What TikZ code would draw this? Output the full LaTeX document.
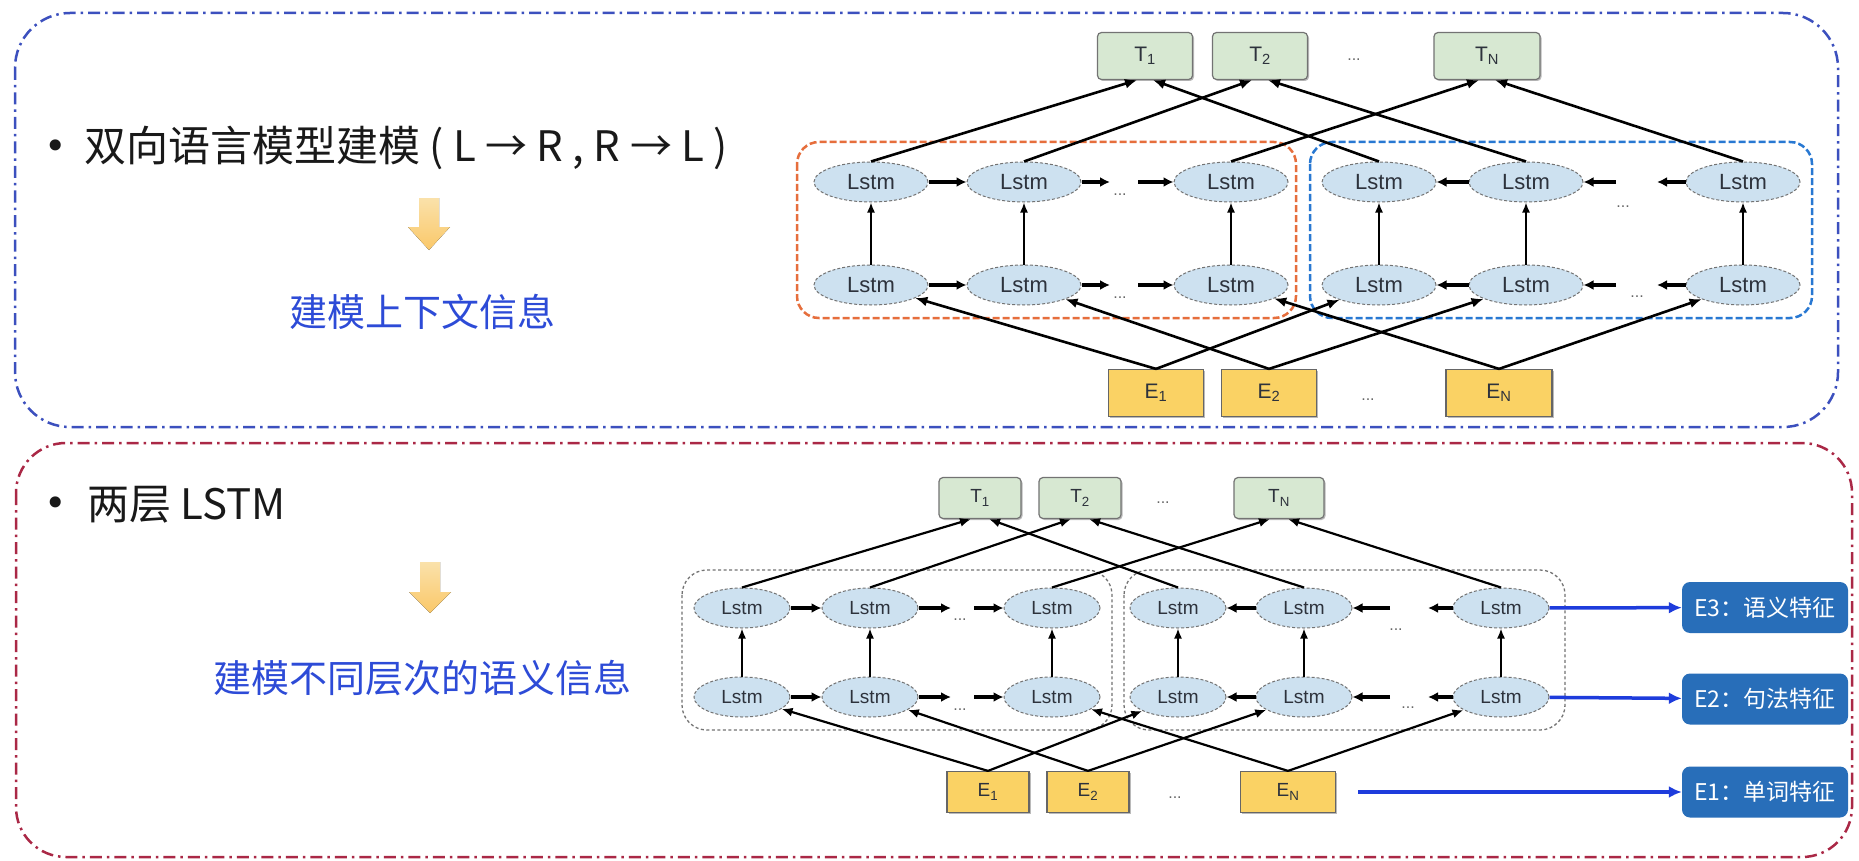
\documentclass[tikz,border=0pt]{standalone}
\usepackage{fontspec}
\setmainfont{Liberation Sans}
\newfontfamily\cjk{Noto Sans CJK SC}
\newfontfamily\dejavu{DejaVu Sans}
\usetikzlibrary{arrows.meta,shapes.geometric,calc,shadows}
\definecolor{outerblue}{RGB}{60,80,190}
\definecolor{outerred}{RGB}{170,40,70}
\definecolor{txtblue}{RGB}{45,75,215}
\definecolor{arrowyel}{RGB}{250,200,105}
\definecolor{arrowyeltop}{RGB}{250,225,170}
\definecolor{lstmfill}{RGB}{205,225,240}
\definecolor{lstmtext}{RGB}{45,50,60}
\definecolor{tfill}{RGB}{215,232,210}
\definecolor{efill}{RGB}{250,210,100}
\definecolor{orangebox}{RGB}{230,110,60}
\definecolor{bluebox}{RGB}{40,120,210}
\definecolor{labelfill}{RGB}{40,110,185}
\definecolor{featline}{RGB}{30,60,220}
\tikzset{
  outerbox/.style={line width=2.5pt, rounded corners=55pt, dash pattern=on 12pt off 5pt on 2.5pt off 5pt},
  lstmA/.style={ellipse, draw=black!55, dash pattern=on 3pt off 2pt, line width=1pt, fill=lstmfill,
    minimum width=114pt, minimum height=40pt, inner sep=0pt, text=lstmtext, font=\fontsize{22}{22}\selectfont},
  lstmB/.style={lstmA, minimum width=96pt, minimum height=40pt, font=\fontsize{19}{19}\selectfont},
  boxshadow/.style={drop shadow={shadow xshift=1.5pt, shadow yshift=-1.5pt, fill=black!45, opacity=0.6}},
  tboxA/.style={draw=black!55, line width=1.2pt, fill=tfill, rounded corners=4pt, inner sep=0pt, boxshadow,
    minimum width=95pt, minimum height=47pt, text=lstmtext, font=\fontsize{21}{21}\selectfont},
  eboxA/.style={draw=black!60, line width=1.2pt, fill=efill, inner sep=0pt, boxshadow,
    minimum width=95pt, minimum height=47pt, text=lstmtext, font=\fontsize{21}{21}\selectfont},
  tboxB/.style={tboxA, minimum width=82pt, minimum height=41pt, font=\fontsize{19}{19}\selectfont},
  eboxB/.style={eboxA, minimum width=82pt, minimum height=41pt, font=\fontsize{19}{19}\selectfont},
  dotsA/.style={text=black!60, font=\fontsize{16}{16}\selectfont, inner sep=0pt},
  diagA/.style={line width=2.6pt, -{Latex[length=12pt,width=10pt]}},
  diagB/.style={line width=2.2pt, -{Latex[length=11pt,width=9pt]}},
  vertA/.style={line width=1.6pt, -{Latex[length=10pt,width=8pt]}},
  horA/.style={line width=3.2pt, -{Latex[length=10pt,width=10pt]}},
  groupbox/.style={line width=2.5pt, dash pattern=on 7pt off 3pt, rounded corners=22pt},
  dotbox/.style={draw=black!55, line width=1.3pt, dash pattern=on 3pt off 2.5pt, rounded corners=25pt},
  featbox/.style={fill=labelfill, rounded corners=8pt, minimum width=166pt, minimum height=51pt,
    text=white, inner sep=0pt, font=\cjk\fontsize{23}{23}\selectfont},
  featarrow/.style={draw=featline, line width=3.5pt, -{Latex[length=13pt,width=12pt]}},
  titletext/.style={anchor=west, inner sep=0pt, text=black!90, font=\cjk\fontsize{42}{42}\selectfont},
  bullettext/.style={inner sep=0pt, text=black!90, font=\dejavu\fontsize{38}{38}\selectfont},
  subtext/.style={inner sep=0pt, text=txtblue, font=\cjk\fontsize{38}{38}\selectfont},
}
\begin{document}
\begin{tikzpicture}[x=1pt,y=-1pt]
\useasboundingbox[fill=white] (0,0) rectangle (1859,861);

% outer frames
\draw[outerbox, draw=outerblue] (15,13) rectangle (1838,427);
\draw[outerbox, draw=outerred, rounded corners=50pt] (16,443) rectangle (1852,857);

% ---------- top left texts
\node[bullettext] (bul1) at (56,150) {•};
\node[titletext] (title1) at (84,148) {双向语言模型建模 ( L → R , R → L )};
\fill[top color=arrowyeltop, bottom color=arrowyel] (419,198) -- (439,198) -- (439,227) -- (450,227) -- (429,250) -- (408,227) -- (419,227) -- cycle;
\node[subtext] (sub1) at (422,312) {建模上下文信息};

% ---------- top diagram
\draw[groupbox, draw=orangebox] (797,142) rectangle (1296,318);
\draw[groupbox, draw=bluebox] (1310,142) rectangle (1812,318);

\node[tboxA] (T1) at (1145,56) {T\textsubscript{1}};
\node[tboxA] (T2) at (1260,56) {T\textsubscript{2}};
\node[dotsA] (Td) at (1354,60) {...};
\node[tboxA, minimum width=106pt] (TN) at (1487,56) {T\textsubscript{N}};

\node[eboxA] (E1) at (1156,393) {E\textsubscript{1}};
\node[eboxA] (E2) at (1269,393) {E\textsubscript{2}};
\node[dotsA] (Ed) at (1368,400) {...};
\node[eboxA, minimum width=106pt] (EN) at (1499,393) {E\textsubscript{N}};

\foreach \i/\x in {1/871,2/1024,3/1231,4/1379,5/1526,6/1743}{
  \node[lstmA] (tu\i) at (\x,182) {Lstm};
  \node[lstmA] (tl\i) at (\x,285) {Lstm};
}
\node[dotsA] (tdu1) at (1120,195) {...};
\node[dotsA] (tdl1) at (1120,298) {...};
\node[dotsA] (tdu2) at (1623,207) {...};
\node[dotsA] (tdl2) at (1637,297) {...};

\coordinate (tua) at (1110,182); \coordinate (tub) at (1138,182);
\coordinate (tla) at (1110,285); \coordinate (tlb) at (1138,285);
\coordinate (tuc) at (1616,182); \coordinate (tud) at (1657,182);
\coordinate (tlc) at (1616,285); \coordinate (tld) at (1657,285);

\foreach \i in {1,...,6}{ \draw[vertA] (tl\i) -- (tu\i); }
\foreach \r in {u,l}{
  \draw[horA] (t\r1) -- (t\r2);
  \draw[horA] (t\r2) -- (t\r a);
  \draw[horA] (t\r b) -- (t\r3);
  \draw[horA] (t\r5) -- (t\r4);
  \draw[horA] (t\r c) -- (t\r5);
  \draw[horA] (t\r6) -- (t\r d);
}
\draw[diagA] (tu1.north) -- ([xshift=-8pt]T1.south);
\draw[diagA] (tu4.north) -- ([xshift=8pt]T1.south);
\draw[diagA] (tu2.north) -- ([xshift=-8pt]T2.south);
\draw[diagA] (tu5.north) -- ([xshift=8pt]T2.south);
\draw[diagA] (tu3.north) -- ([xshift=-8pt]TN.south);
\draw[diagA] (tu6.north) -- ([xshift=8pt]TN.south);
\draw[diagA] (E1.north) -- (tl1);
\draw[diagA] (E1.north) -- (tl4);
\draw[diagA] (E2.north) -- (tl2);
\draw[diagA] (E2.north) -- (tl5);
\draw[diagA] (EN.north) -- (tl3);
\draw[diagA] (EN.north) -- (tl6);

% ---------- bottom left texts
\node[bullettext] (bul2) at (56,507) {•};
\node[titletext] (title2) at (87,505) {两层 LSTM};
\fill[top color=arrowyeltop, bottom color=arrowyel] (420,562) -- (440,562) -- (440,592) -- (451,592) -- (430,613) -- (409,592) -- (420,592) -- cycle;
\node[subtext] (sub2) at (422,678) {建模不同层次的语义信息};

% ---------- bottom diagram
\draw[dotbox] (682,570) rectangle (1112,730);
\draw[dotbox] (1124,570) rectangle (1565,730);

\node[tboxB] (bT1) at (980,498) {T\textsubscript{1}};
\node[tboxB] (bT2) at (1080,498) {T\textsubscript{2}};
\node[dotsA] (bTd) at (1163,503) {...};
\node[tboxB, minimum width=90pt] (bTN) at (1279,498) {T\textsubscript{N}};

\node[eboxB] (bE1) at (988,792) {E\textsubscript{1}};
\node[eboxB] (bE2) at (1088,792) {E\textsubscript{2}};
\node[dotsA] (bEd) at (1175,798) {...};
\node[eboxB, minimum width=95pt] (bEN) at (1288,792) {E\textsubscript{N}};

\foreach \i/\x in {1/742,2/870,3/1052,4/1178,5/1304,6/1501}{
  \node[lstmB] (bu\i) at (\x,608) {Lstm};
  \node[lstmB] (bl\i) at (\x,697) {Lstm};
}
\node[dotsA] (bdu1) at (960,620) {...};
\node[dotsA] (bdl1) at (960,710) {...};
\node[dotsA] (bdu2) at (1396,630) {...};
\node[dotsA] (bdl2) at (1408,708) {...};

\coordinate (bua) at (951,608); \coordinate (bub) at (974,608);
\coordinate (bla) at (951,697); \coordinate (blb) at (974,697);
\coordinate (buc) at (1390,608); \coordinate (bud) at (1428,608);
\coordinate (blc) at (1390,697); \coordinate (bld) at (1428,697);

\foreach \i in {1,...,6}{ \draw[vertA] (bl\i) -- (bu\i); }
\foreach \r in {u,l}{
  \draw[horA] (b\r1) -- (b\r2);
  \draw[horA] (b\r2) -- (b\r a);
  \draw[horA] (b\r b) -- (b\r3);
  \draw[horA] (b\r5) -- (b\r4);
  \draw[horA] (b\r c) -- (b\r5);
  \draw[horA] (b\r6) -- (b\r d);
}
\draw[diagB] (bu1.north) -- ([xshift=-9pt]bT1.south);
\draw[diagB] (bu4.north) -- ([xshift=9pt]bT1.south);
\draw[diagB] (bu2.north) -- ([xshift=-9pt]bT2.south);
\draw[diagB] (bu5.north) -- ([xshift=9pt]bT2.south);
\draw[diagB] (bu3.north) -- ([xshift=-9pt]bTN.south);
\draw[diagB] (bu6.north) -- ([xshift=9pt]bTN.south);
\draw[diagB] (bE1.north) -- (bl1);
\draw[diagB] (bE1.north) -- (bl4);
\draw[diagB] (bE2.north) -- (bl2);
\draw[diagB] (bE2.north) -- (bl5);
\draw[diagB] (bEN.north) -- (bl3);
\draw[diagB] (bEN.north) -- (bl6);

% feature labels
\node[featbox] (f3) at (1765,607.5) {E3：语义特征};
\node[featbox] (f2) at (1765,699) {E2：句法特征};
\node[featbox] (f1) at (1765,792) {E1：单词特征};
\draw[featarrow] (bu6) -- (f3);
\draw[featarrow] (bl6) -- (f2);
\draw[featarrow, shorten <=22pt] (bEN) -- (f1);
\end{tikzpicture}
\end{document}
